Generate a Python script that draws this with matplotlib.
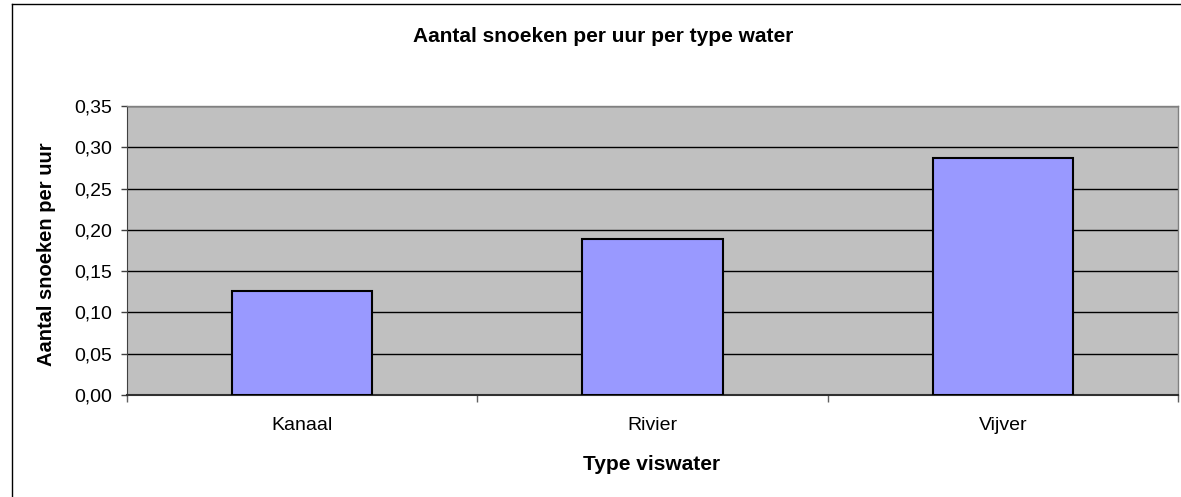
import matplotlib
matplotlib.use("Agg")
import matplotlib.pyplot as plt
from matplotlib.lines import Line2D
from matplotlib.ticker import MultipleLocator, FuncFormatter, FixedLocator

categories = ["Kanaal", "Rivier", "Vijver"]
values = [0.126, 0.189, 0.287]
title = "Aantal snoeken per uur per type water"
xlabel = "Type viswater"
ylabel = "Aantal snoeken per uur"

W, H = 1181, 497
plt.rcParams['font.family'] = ['Liberation Sans', 'DejaVu Sans']
fig = plt.figure(figsize=(W / 100, H / 100), dpi=100)

# outer chart border (only top and left visible in the crop)
fig.lines.append(Line2D([11.5 / W, 11.5 / W], [0, 1 - 3.5 / H], transform=fig.transFigure,
                        color='black', linewidth=1.0))
fig.lines.append(Line2D([11.5 / W, 1], [1 - 3.5 / H, 1 - 3.5 / H], transform=fig.transFigure,
                        color='black', linewidth=1.0))

ax = fig.add_axes([127 / W, 1 - 395 / H, (1178 - 127) / W, (395 - 106) / H])
ax.set_facecolor('#C0C0C0')
ax.set_xlim(0, len(categories))
ax.set_ylim(0, 0.35)
ax.yaxis.set_major_locator(MultipleLocator(0.05))
ax.yaxis.set_major_formatter(FuncFormatter(lambda v, p: f"{v:.2f}".replace('.', ',')))
ax.grid(axis='y', color='black', linewidth=1.0)
ax.set_axisbelow(True)

pos = [i + 0.5 for i in range(len(categories))]
ax.bar(pos, values, width=0.4, color='#9999FF', edgecolor='black', linewidth=1.5, zorder=3)

ax.xaxis.set_major_locator(FixedLocator(range(len(categories) + 1)))
ax.xaxis.set_major_formatter(FuncFormatter(lambda v, p: ''))
ax.xaxis.set_minor_locator(FixedLocator(pos))
ax.set_xticklabels(categories, minor=True)
ax.tick_params(axis='x', which='minor', length=0, labelsize=14, pad=16)
ax.tick_params(axis='x', which='major', length=5, color='#606060', width=1)
ax.tick_params(axis='y', length=4, color='#404040', width=1, labelsize=14, pad=7)

for s in ['top', 'right']:
    ax.spines[s].set_color('#808080')
    ax.spines[s].set_linewidth(1.0)
ax.spines['left'].set_color('#404040')
ax.spines['bottom'].set_color('#303030')
ax.spines['bottom'].set_linewidth(1.5)

fig.text(603 / W, 1 - 37 / H, title, ha='center', va='center', fontsize=15, fontweight='bold')
fig.text(652 / W, 1 - 464 / H, xlabel, ha='center', va='center', fontsize=15, fontweight='bold')
fig.text(47 / W, 1 - 254 / H, ylabel, ha='center', va='center', rotation=90, fontsize=14.5, fontweight='bold')

fig.savefig('out.png', dpi=100)
